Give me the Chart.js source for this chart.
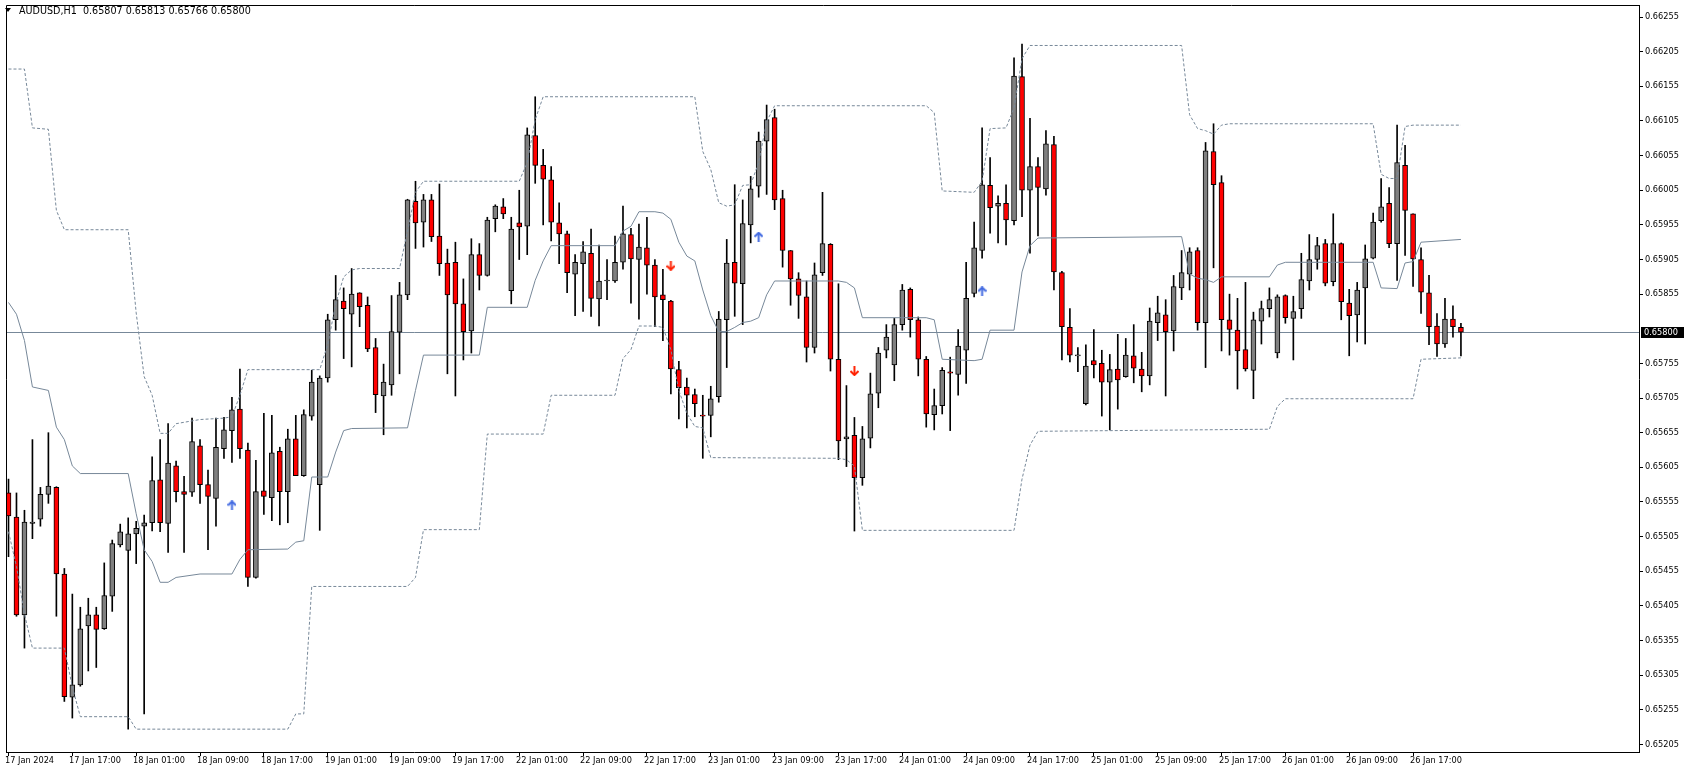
<!DOCTYPE html>
<html lang="en">
<head>
    <meta charset="UTF-8">
    <title>AUDUSD,H1</title>
    <script src="https://cdn.jsdelivr.net/npm/chart.js@4.4.0/dist/chart.umd.min.js"></script>
    <style>
        html, body { margin: 0; padding: 0; background: #fff; overflow: hidden; }
    </style>
</head>
<body>
    <canvas id="myChart" width="1685" height="773"></canvas>
    <script>
        // hourly candles, 17 Jan 09:00 .. 26 Jan 23:00 (bar index 0..182)
        const open = [
            0.65568, 0.65533, 0.65392, 0.65524, 0.65530, 0.65566, 0.65576, 0.65451, 0.65273, 0.65291,
            0.65376, 0.65392, 0.65372, 0.65419, 0.65493, 0.65485, 0.65509, 0.65520, 0.65525, 0.65587,
            0.65524, 0.65607, 0.65570, 0.65569, 0.65636, 0.65580, 0.65560, 0.65632, 0.65658, 0.65689,
            0.65630, 0.65446, 0.65571, 0.65561, 0.65628, 0.65570, 0.65646, 0.65593, 0.65679, 0.65580,
            0.65734, 0.65818, 0.65845, 0.65826, 0.65857, 0.65839, 0.65778, 0.65708, 0.65724, 0.65800,
            0.65854, 0.65989, 0.65959, 0.65991, 0.65939, 0.65900, 0.65901, 0.65841, 0.65802, 0.65912,
            0.65882, 0.65964, 0.65981, 0.65860, 0.65958, 0.65953, 0.66084, 0.66041, 0.66020, 0.65958,
            0.65942, 0.65884, 0.65899, 0.65914, 0.65848, 0.65874, 0.65874, 0.65901, 0.65941, 0.65905,
            0.65922, 0.65897, 0.65854, 0.65845, 0.65746, 0.65721, 0.65710, 0.65680, 0.65680, 0.65707,
            0.65818, 0.65901, 0.65870, 0.65955, 0.66011, 0.66076, 0.66110, 0.65993, 0.65918, 0.65877,
            0.65851, 0.65778, 0.65886, 0.65927, 0.65761, 0.65646, 0.65651, 0.65590, 0.65647, 0.65712,
            0.65774, 0.65753, 0.65811, 0.65862, 0.65818, 0.65761, 0.65681, 0.65694, 0.65743, 0.65739,
            0.65774, 0.65856, 0.65918, 0.66012, 0.65982, 0.65986, 0.65961, 0.66169, 0.66005, 0.66039,
            0.66007, 0.66071, 0.65886, 0.65807, 0.65766, 0.65697, 0.65759, 0.65755, 0.65728, 0.65747,
            0.65736, 0.65766, 0.65747, 0.65737, 0.65814, 0.65825, 0.65802, 0.65864, 0.65884, 0.65918,
            0.65814, 0.66061, 0.66016, 0.65818, 0.65803, 0.65775, 0.65745, 0.65816, 0.65834, 0.65770,
            0.65853, 0.65820, 0.65834, 0.65874, 0.65905, 0.65928, 0.65873, 0.65928, 0.65842, 0.65825,
            0.65864, 0.65907, 0.65961, 0.65986, 0.65928, 0.66041, 0.65971, 0.65905, 0.65857, 0.65809,
            0.65783, 0.65819, 0.65807
        ];
        const high = [
            0.65588, 0.65568, 0.65543, 0.65645, 0.65576, 0.65655, 0.65577, 0.65459, 0.65422, 0.65403,
            0.65416, 0.65403, 0.65467, 0.65500, 0.65523, 0.65532, 0.65527, 0.65536, 0.65620, 0.65645,
            0.65668, 0.65614, 0.65592, 0.65676, 0.65645, 0.65601, 0.65676, 0.65677, 0.65706, 0.65747,
            0.65640, 0.65615, 0.65683, 0.65680, 0.65634, 0.65660, 0.65680, 0.65688, 0.65745, 0.65737,
            0.65826, 0.65882, 0.65864, 0.65892, 0.65857, 0.65851, 0.65791, 0.65754, 0.65853, 0.65872,
            0.65992, 0.66018, 0.65999, 0.65999, 0.66014, 0.65920, 0.65930, 0.65877, 0.65935, 0.65928,
            0.65966, 0.65984, 0.65993, 0.65966, 0.66005, 0.66095, 0.66140, 0.66064, 0.66039, 0.65987,
            0.65946, 0.65912, 0.65931, 0.65949, 0.65926, 0.65905, 0.65939, 0.65982, 0.65950, 0.65956,
            0.65966, 0.65905, 0.65891, 0.65846, 0.65758, 0.65734, 0.65718, 0.65709, 0.65722, 0.65830,
            0.65934, 0.66013, 0.65991, 0.66025, 0.66089, 0.66128, 0.66122, 0.66005, 0.65918, 0.65886,
            0.65874, 0.65900, 0.66002, 0.65928, 0.65870, 0.65723, 0.65677, 0.65664, 0.65741, 0.65778,
            0.65811, 0.65820, 0.65869, 0.65864, 0.65822, 0.65765, 0.65718, 0.65749, 0.65764, 0.65804,
            0.65901, 0.65959, 0.66095, 0.66052, 0.65997, 0.66013, 0.66196, 0.66216, 0.66109, 0.66052,
            0.66091, 0.66083, 0.65888, 0.65834, 0.65778, 0.65782, 0.65804, 0.65774, 0.65768, 0.65797,
            0.65791, 0.65811, 0.65771, 0.65835, 0.65852, 0.65847, 0.65882, 0.65918, 0.65922, 0.65922,
            0.66074, 0.66101, 0.66026, 0.65855, 0.65849, 0.65872, 0.65829, 0.65845, 0.65864, 0.65854,
            0.65854, 0.65852, 0.65914, 0.65941, 0.65937, 0.65934, 0.65971, 0.65929, 0.65862, 0.65872,
            0.65926, 0.65972, 0.66022, 0.66009, 0.66099, 0.66070, 0.65971, 0.65922, 0.65882, 0.65827,
            0.65849, 0.65838, 0.65813
        ];
        const low = [
            0.65476, 0.65390, 0.65344, 0.65502, 0.65520, 0.65553, 0.65390, 0.65267, 0.65243, 0.65289,
            0.65311, 0.65316, 0.65371, 0.65397, 0.65490, 0.65227, 0.65466, 0.65249, 0.65513, 0.65512,
            0.65482, 0.65555, 0.65482, 0.65563, 0.65553, 0.65486, 0.65520, 0.65618, 0.65612, 0.65618,
            0.65433, 0.65445, 0.65537, 0.65528, 0.65522, 0.65525, 0.65593, 0.65592, 0.65673, 0.65514,
            0.65728, 0.65803, 0.65762, 0.65750, 0.65808, 0.65772, 0.65684, 0.65652, 0.65709, 0.65740,
            0.65847, 0.65921, 0.65923, 0.65931, 0.65882, 0.65740, 0.65708, 0.65760, 0.65770, 0.65861,
            0.65881, 0.65945, 0.65964, 0.65841, 0.65905, 0.65912, 0.66015, 0.65955, 0.65932, 0.65899,
            0.65857, 0.65824, 0.65830, 0.65823, 0.65809, 0.65847, 0.65872, 0.65891, 0.65842, 0.65819,
            0.65855, 0.65808, 0.65788, 0.65711, 0.65675, 0.65662, 0.65678, 0.65618, 0.65649, 0.65699,
            0.65749, 0.65823, 0.65811, 0.65929, 0.65995, 0.65999, 0.65977, 0.65894, 0.65839, 0.65820,
            0.65757, 0.65770, 0.65882, 0.65744, 0.65616, 0.65606, 0.65513, 0.65579, 0.65633, 0.65691,
            0.65763, 0.65730, 0.65803, 0.65793, 0.65737, 0.65663, 0.65659, 0.65682, 0.65658, 0.65709,
            0.65726, 0.65851, 0.65907, 0.65943, 0.65929, 0.65926, 0.65955, 0.65967, 0.65914, 0.65939,
            0.65998, 0.65861, 0.65760, 0.65757, 0.65743, 0.65695, 0.65734, 0.65679, 0.65659, 0.65689,
            0.65735, 0.65727, 0.65714, 0.65724, 0.65788, 0.65708, 0.65773, 0.65847, 0.65861, 0.65803,
            0.65749, 0.65893, 0.65773, 0.65767, 0.65718, 0.65744, 0.65704, 0.65783, 0.65822, 0.65763,
            0.65813, 0.65760, 0.65820, 0.65861, 0.65891, 0.65867, 0.65867, 0.65818, 0.65766, 0.65786,
            0.65783, 0.65906, 0.65959, 0.65922, 0.65875, 0.65911, 0.65866, 0.65827, 0.65782, 0.65765,
            0.65778, 0.65793, 0.65766
        ];
        const close = [
            0.65535, 0.65392, 0.65526, 0.65526, 0.65566, 0.65578, 0.65451, 0.65274, 0.65291, 0.65372,
            0.65392, 0.65371, 0.65420, 0.65495, 0.65512, 0.65509, 0.65517, 0.65525, 0.65586, 0.65525,
            0.65611, 0.65570, 0.65566, 0.65642, 0.65580, 0.65563, 0.65634, 0.65659, 0.65688, 0.65632,
            0.65446, 0.65570, 0.65563, 0.65626, 0.65570, 0.65646, 0.65593, 0.65681, 0.65728, 0.65734,
            0.65818, 0.65847, 0.65834, 0.65855, 0.65837, 0.65776, 0.65710, 0.65728, 0.65801, 0.65854,
            0.65991, 0.65958, 0.65991, 0.65938, 0.65899, 0.65854, 0.65841, 0.65801, 0.65912, 0.65882,
            0.65962, 0.65982, 0.65971, 0.65949, 0.65952, 0.66085, 0.66041, 0.66021, 0.65959, 0.65942,
            0.65886, 0.65901, 0.65916, 0.65849, 0.65874, 0.65875, 0.65901, 0.65942, 0.65906, 0.65923,
            0.65897, 0.65851, 0.65847, 0.65747, 0.65720, 0.65709, 0.65697, 0.65679, 0.65704, 0.65819,
            0.65900, 0.65871, 0.65957, 0.66007, 0.66076, 0.66107, 0.65991, 0.65918, 0.65877, 0.65853,
            0.65778, 0.65883, 0.65928, 0.65761, 0.65643, 0.65649, 0.65590, 0.65646, 0.65711, 0.65770,
            0.65793, 0.65811, 0.65861, 0.65818, 0.65761, 0.65682, 0.65694, 0.65745, 0.65741, 0.65780,
            0.65849, 0.65922, 0.66013, 0.65980, 0.65986, 0.65962, 0.66170, 0.66005, 0.66039, 0.66009,
            0.66072, 0.65887, 0.65808, 0.65767, 0.65767, 0.65751, 0.65753, 0.65728, 0.65746, 0.65731,
            0.65767, 0.65748, 0.65737, 0.65816, 0.65828, 0.65801, 0.65866, 0.65886, 0.65916, 0.65814,
            0.66062, 0.66013, 0.65818, 0.65804, 0.65773, 0.65747, 0.65818, 0.65834, 0.65847, 0.65851,
            0.65821, 0.65830, 0.65876, 0.65905, 0.65925, 0.65871, 0.65928, 0.65844, 0.65824, 0.65861,
            0.65906, 0.65959, 0.65981, 0.65928, 0.66045, 0.65976, 0.65906, 0.65858, 0.65808, 0.65783,
            0.65819, 0.65808, 0.65800
        ];

        // channel indicator, read at the bars where the lines bend
        const upperIdx = [0, 2, 3, 5, 6, 7, 15, 16, 17, 18, 19, 20, 21, 24, 27, 28, 29, 30, 39, 40,
            41, 42, 43, 44, 49, 50, 51, 52, 64, 65, 66, 67, 86, 87, 88, 89, 90, 91, 92, 93,
            94, 95, 96, 115, 116, 117, 121, 122, 123, 125, 126, 127, 128, 147, 148, 149, 150, 151, 152, 153,
            171, 172, 173, 174, 175, 176, 182];
        const upperVal = [0.66180, 0.66180, 0.66095, 0.66093, 0.65976, 0.65948, 0.65948, 0.65828, 0.65736, 0.65709,
            0.65654, 0.65654, 0.65668, 0.65674, 0.65676, 0.65678, 0.65709, 0.65746, 0.65746, 0.65782,
            0.65841, 0.65880, 0.65890, 0.65892, 0.65892, 0.65946, 0.66002, 0.66018, 0.66018, 0.66045,
            0.66107, 0.66140, 0.66140, 0.66061, 0.66035, 0.65987, 0.65982, 0.65984, 0.66012, 0.66013,
            0.66045, 0.66104, 0.66127, 0.66127, 0.66117, 0.66004, 0.66002, 0.66018, 0.66094, 0.66095,
            0.66124, 0.66195, 0.66214, 0.66214, 0.66114, 0.66094, 0.66091, 0.66086, 0.66099, 0.66101,
            0.66101, 0.66028, 0.66022, 0.66022, 0.66097, 0.66099, 0.66099];

        const lowerIdx = [0, 1, 2, 3, 7, 8, 9, 15, 16, 35, 36, 37, 38, 50, 51, 52, 59, 60, 67, 68,
            76, 77, 78, 79, 81, 82, 83, 84, 85, 86, 87, 88, 104, 105, 106, 107, 126, 127, 128, 129,
            158, 159, 160, 176, 177, 182];
        const lowerVal = [0.65512, 0.65462, 0.65393, 0.65344, 0.65344, 0.65288, 0.65245, 0.65245, 0.65227, 0.65227,
            0.65249, 0.65249, 0.65433, 0.65433, 0.65446, 0.65515, 0.65515, 0.65653, 0.65653, 0.65709,
            0.65709, 0.65762, 0.65775, 0.65809, 0.65809, 0.65807, 0.65775, 0.65716, 0.65683, 0.65664,
            0.65662, 0.65619, 0.65618, 0.65616, 0.65607, 0.65514, 0.65514, 0.65588, 0.65637, 0.65657,
            0.65660, 0.65693, 0.65704, 0.65704, 0.65761, 0.65763];

        const midIdx = [0, 1, 2, 3, 5, 6, 7, 8, 9, 15, 16, 17, 18, 19, 20, 21, 24, 28, 29, 30,
            35, 36, 37, 38, 40, 41, 42, 43, 50, 51, 52, 59, 60, 65, 66, 67, 68, 76, 77, 78,
            79, 81, 82, 83, 84, 85, 86, 87, 88, 89, 90, 91, 92, 93, 94, 95, 96, 104, 105, 106,
            107, 115, 116, 117, 121, 122, 123, 126, 127, 128, 129, 147, 148, 149, 150, 151, 152, 158, 159, 160,
            171, 172, 174, 175, 176, 177, 182];
        const midVal = [0.65843, 0.65826, 0.65788, 0.65721, 0.65716, 0.65663, 0.65645, 0.65607, 0.65596, 0.65596,
            0.65538, 0.65486, 0.65469, 0.65439, 0.65439, 0.65446, 0.65451, 0.65451, 0.65472, 0.65486,
            0.65487, 0.65497, 0.65499, 0.65591, 0.65591, 0.65627, 0.65658, 0.65661, 0.65662, 0.65716,
            0.65767, 0.65767, 0.65836, 0.65836, 0.65875, 0.65903, 0.65925, 0.65925, 0.65946, 0.65953,
            0.65974, 0.65974, 0.65972, 0.65963, 0.65930, 0.65910, 0.65903, 0.65861, 0.65824, 0.65801,
            0.65801, 0.65807, 0.65814, 0.65816, 0.65821, 0.65854, 0.65874, 0.65874, 0.65872, 0.65864,
            0.65821, 0.65821, 0.65818, 0.65761, 0.65759, 0.65761, 0.65803, 0.65803, 0.65887, 0.65925,
            0.65936, 0.65938, 0.65884, 0.65878, 0.65876, 0.65872, 0.65880, 0.65880, 0.65897, 0.65901,
            0.65901, 0.65864, 0.65863, 0.65900, 0.65902, 0.65930, 0.65934];

        // signal arrows
        const buyIdx = [28, 94, 122];
        const buyVal = [0.65550, 0.65938, 0.65859];
        const sellIdx = [83, 106];
        const sellVal = [0.65896, 0.65744];

        // axes
        const timeIdx = [0, 8, 16, 24, 32, 40, 48, 56, 64, 72, 80, 88, 96, 104, 112, 120, 128, 136, 144, 152, 160, 168, 176];
        const timeLabels = ['17 Jan 2024', '17 Jan 17:00', '18 Jan 01:00', '18 Jan 09:00', '18 Jan 17:00',
            '19 Jan 01:00', '19 Jan 09:00', '19 Jan 17:00', '22 Jan 01:00', '22 Jan 09:00', '22 Jan 17:00',
            '23 Jan 01:00', '23 Jan 09:00', '23 Jan 17:00', '24 Jan 01:00', '24 Jan 09:00', '24 Jan 17:00',
            '25 Jan 01:00', '25 Jan 09:00', '25 Jan 17:00', '26 Jan 01:00', '26 Jan 09:00', '26 Jan 17:00'];
        const priceTicks = [0.66255, 0.66205, 0.66155, 0.66105, 0.66055, 0.66005, 0.65955, 0.65905, 0.65855,
            0.65755, 0.65705, 0.65655, 0.65605, 0.65555, 0.65505, 0.65455, 0.65405, 0.65355, 0.65305, 0.65255, 0.65205];
        const bidPrice = 0.65800;
        const titleText = 'AUDUSD,H1  0.65807 0.65813 0.65766 0.65800';

        const FONT = 'DejaVu Sans';
        const lineColor = '#778899';

        // small arrow glyphs used as point styles
        function makeArrow(color, up) {
            const c = document.createElement('canvas');
            c.width = 9; c.height = 10;
            const g = c.getContext('2d');
            if (!up) { g.translate(0, 10); g.scale(1, -1); }
            g.strokeStyle = color;
            g.lineWidth = 2;
            g.beginPath();
            g.moveTo(0.5, 5); g.lineTo(4.5, 1); g.lineTo(8.5, 5);
            g.stroke();
            g.beginPath();
            g.moveTo(4.5, 1.5); g.lineTo(4.5, 10);
            g.stroke();
            return c;
        }

        const bars = open.map((o, i) => i);
        const wickData = bars.map(i => ({ x: i, y: [low[i], high[i]] }));
        const bodyData = bars.map(i => ({ x: i, y: [open[i], close[i]] }));
        const bodyColors = bars.map(i => close[i] >= open[i] ? '#808080' : '#ff0000');

        const chartPlugin = {
            id: 'mtExtras',
            beforeDatasetsDraw(chart) {
                const ctx = chart.ctx;
                const a = chart.chartArea;
                const y = Math.round(chart.scales.y.getPixelForValue(bidPrice)) + 0.5;
                ctx.save();
                ctx.strokeStyle = lineColor;
                ctx.lineWidth = 1;
                ctx.beginPath();
                ctx.moveTo(a.left, y); ctx.lineTo(a.right, y);
                ctx.stroke();
                ctx.restore();
            },
            afterDraw(chart) {
                const ctx = chart.ctx;
                const a = chart.chartArea;
                const xs = chart.scales.x;
                ctx.save();
                // left and top frame
                ctx.strokeStyle = '#000';
                ctx.lineWidth = 1;
                ctx.beginPath();
                ctx.moveTo(a.left + 0.5, a.bottom + 1);
                ctx.lineTo(a.left + 0.5, a.top - 0.5);
                ctx.lineTo(a.right + 1, a.top - 0.5);
                ctx.stroke();

                // time labels, text starting at the tick
                ctx.fillStyle = '#000';
                ctx.font = '8.2px "' + FONT + '"';
                ctx.textBaseline = 'middle';
                ctx.textAlign = 'left';
                timeIdx.forEach((v, k) => {
                    ctx.fillText(timeLabels[k], Math.round(xs.getPixelForValue(v)) - 3, 761);
                });

                // title
                ctx.beginPath();
                ctx.moveTo(5, 8); ctx.lineTo(11, 8); ctx.lineTo(8, 12); ctx.closePath();
                ctx.fill();
                ctx.font = '9.6px "' + FONT + '"';
                ctx.fillText(titleText, 19, 11);

                // current price label
                const y = Math.round(chart.scales.y.getPixelForValue(bidPrice));
                ctx.font = '8.2px "' + FONT + '"';
                ctx.fillStyle = '#000';
                ctx.fillRect(a.right + 2, y - 5, 43, 11);
                ctx.fillStyle = '#fff';
                ctx.fillText(bidPrice.toFixed(5), a.right + 5, y + 0.5);
                ctx.restore();
            }
        };

        const ctx = document.getElementById('myChart').getContext('2d');
        const myChart = new Chart(ctx, {
            type: 'bar',
            data: {
                datasets: [
                    {
                        type: 'line', data: buyIdx.map((x, k) => ({ x: x, y: buyVal[k] })),
                        showLine: false, pointStyle: makeArrow('#4169e1', true), pointRadius: 5, order: 0
                    },
                    {
                        type: 'line', data: sellIdx.map((x, k) => ({ x: x, y: sellVal[k] })),
                        showLine: false, pointStyle: makeArrow('#ff2000', false), pointRadius: 5, order: 0
                    },
                    {
                        type: 'line', data: upperIdx.map((x, k) => ({ x: x, y: upperVal[k] })),
                        borderColor: lineColor, borderWidth: 1, borderDash: [3, 2], pointRadius: 0, tension: 0, order: 1
                    },
                    {
                        type: 'line', data: lowerIdx.map((x, k) => ({ x: x, y: lowerVal[k] })),
                        borderColor: lineColor, borderWidth: 1, borderDash: [3, 2], pointRadius: 0, tension: 0, order: 1
                    },
                    {
                        type: 'line', data: midIdx.map((x, k) => ({ x: x, y: midVal[k] })),
                        borderColor: lineColor, borderWidth: 1, pointRadius: 0, tension: 0, order: 1
                    },
                    {
                        label: 'body', data: bodyData, backgroundColor: bodyColors, borderColor: '#000',
                        borderWidth: 1, borderSkipped: false, barThickness: 5, minBarLength: 1, grouped: false, order: 2
                    },
                    {
                        label: 'wick', data: wickData, backgroundColor: '#000', borderWidth: 0,
                        barThickness: 1, grouped: false, order: 3
                    }
                ]
            },
            options: {
                responsive: false,
                animation: false,
                events: [],
                layout: { padding: { left: 2, top: 2, right: 0, bottom: 0 } },
                plugins: {
                    legend: { display: false },
                    tooltip: { enabled: false }
                },
                scales: {
                    x: {
                        type: 'linear',
                        position: 'bottom',
                        min: -0.3125,
                        max: 204.3125,
                        offset: false,
                        afterBuildTicks: s => { s.ticks = timeIdx.map(v => ({ value: v })); },
                        afterFit: s => { s.height = 21; s.paddingLeft = 0; s.paddingRight = 0; },
                        ticks: { display: false, autoSkip: false, maxRotation: 0, minRotation: 0 },
                        grid: { offset: false, drawOnChartArea: false, drawTicks: true, tickLength: 4, color: '#000' },
                        border: { display: true, color: '#000' }
                    },
                    y: {
                        type: 'linear',
                        position: 'right',
                        min: 0.65194,
                        max: 0.66271,
                        afterBuildTicks: s => { s.ticks = priceTicks.map(v => ({ value: v })); },
                        afterFit: s => { s.width = 46; s.paddingTop = 0; s.paddingBottom = 0; },
                        ticks: {
                            padding: 2, color: '#000', font: { family: FONT, size: 8.2 },
                            callback: v => v.toFixed(5)
                        },
                        grid: { drawOnChartArea: false, drawTicks: true, tickLength: 4, color: '#000' },
                        border: { display: true, color: '#000' }
                    }
                }
            },
            plugins: [chartPlugin]
        });
    </script>
</body>
</html>
